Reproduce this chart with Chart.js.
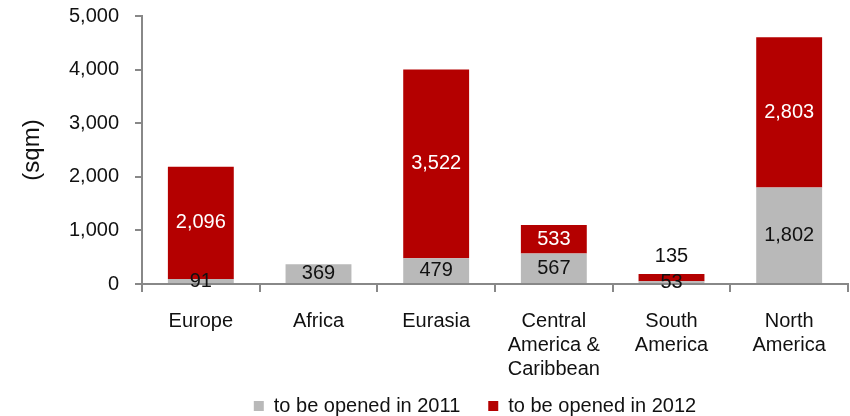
<!DOCTYPE html>
<html>
<head>
<meta charset="utf-8">
<script src="https://cdn.jsdelivr.net/npm/chart.js@4.4.1/dist/chart.umd.min.js"></script>
<style>
  html, body { margin: 0; padding: 0; background: #fff; }
  #wrap { width: 850px; height: 416px; }
</style>
</head>
<body>
<div id="wrap"><canvas id="chart"></canvas></div>
<script>
// Store openings by region (sqm)
const regions = ['Europe', 'Africa', 'Eurasia', ['Central', 'America &', 'Caribbean'], ['South', 'America'], ['North', 'America']];
const opened2011 = [91, 369, 479, 567, 53, 1802];
const opened2012 = [2096, null, 3522, 533, 135, 2803];
const yTicks = [0, 1000, 2000, 3000, 4000, 5000];

const axisColor = '#888888';
const textColor = '#111111';
const fontFamily = '"Liberation Sans", Arial, sans-serif';

const fmt = v => v.toLocaleString('en-US');

// Writes each segment's value in the middle of it; small top segments get it above
const valueLabels = {
    id: 'valueLabels',
    afterLayout(chart) {
        // let the three-line category labels run down into the legend band
        const x = chart.scales.x;
        x.bottom = chart.height;
        x.height = x.bottom - x.top;
        // nudge the legend a little left of the plot centre
        chart.legend.left -= 20;
        chart.legend.right -= 20;
    },
    afterDatasetsDraw(chart) {
        const ctx = chart.ctx;
        ctx.save();
        ctx.font = '20px ' + fontFamily;
        ctx.textAlign = 'center';
        ctx.textBaseline = 'middle';
        chart.data.datasets.forEach((ds, i) => {
            const meta = chart.getDatasetMeta(i);
            meta.data.forEach((bar, j) => {
                const v = ds.data[j];
                if (v == null) return;
                const h = bar.base - bar.y;
                let y = (bar.y + bar.base) / 2;
                let color = i === 0 ? textColor : '#ffffff';
                if (i === 1 && h < 16) {
                    y = bar.y - 17;
                    color = textColor;
                }
                ctx.fillStyle = color;
                ctx.fillText(fmt(v), bar.x, y);
            });
        });
        ctx.restore();
    }
};

const ctx = document.getElementById('chart').getContext('2d');
const chart = new Chart(ctx, {
    type: 'bar',
    data: {
        labels: regions,
        datasets: [
            { label: 'to be opened in 2011', data: opened2011, backgroundColor: '#b9b9b9' },
            { label: 'to be opened in 2012', data: opened2012, backgroundColor: '#b40000' }
        ]
    },
    options: {
        responsive: true,
        maintainAspectRatio: false,
        animation: false,
        layout: { padding: { top: 16, right: 2, left: 0, bottom: -10 } },
        datasets: { bar: { categoryPercentage: 1, barPercentage: 0.56 } },
        plugins: {
            tooltip: { enabled: false },
            legend: {
                position: 'bottom',
                fullSize: false,
                labels: {
                    boxWidth: 10,
                    boxHeight: 10,
                    padding: 28,
                    color: textColor,
                    font: { family: fontFamily, size: 20 }
                }
            }
        },
        scales: {
            x: {
                stacked: true,
                grid: { display: true, drawOnChartArea: false, drawTicks: true, tickLength: 8, color: axisColor, lineWidth: 2 },
                border: { display: true, color: axisColor, width: 2 },
                ticks: {
                    color: textColor,
                    padding: 17,
                    maxRotation: 0,
                    font: { family: fontFamily, size: 20, lineHeight: 1.2 }
                },
                afterFit: scale => { scale.height = 84; }
            },
            y: {
                stacked: true,
                min: 0,
                max: 5000,
                afterBuildTicks: scale => { scale.ticks = yTicks.map(v => ({ value: v })); },
                grid: { display: true, drawOnChartArea: false, drawTicks: true, tickLength: 7, color: axisColor, lineWidth: 2 },
                border: { display: true, color: axisColor, width: 2 },
                ticks: {
                    color: textColor,
                    padding: 16,
                    font: { family: fontFamily, size: 20 },
                    callback: v => fmt(v)
                },
                title: {
                    display: true,
                    text: '(sqm)',
                    color: textColor,
                    padding: { top: 18, bottom: 0 },
                    font: { family: fontFamily, size: 24 }
                },
                afterFit: scale => {
                    scale.width = 142;
                    scale.paddingTop = 0;
                }
            }
        }
    },
    plugins: [valueLabels]
});
</script>
</body>
</html>
